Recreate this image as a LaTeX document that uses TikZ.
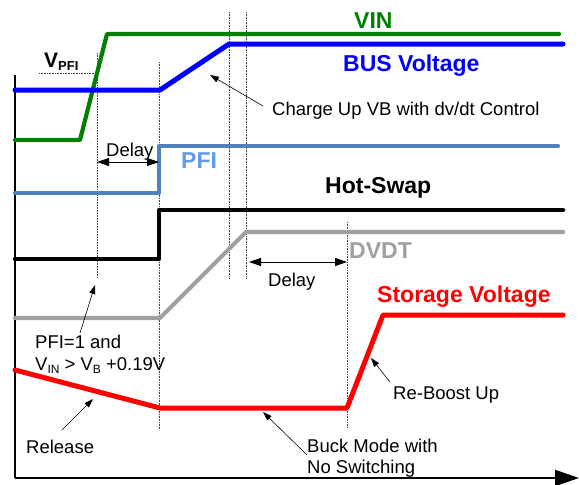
\documentclass[tikz,border=0pt]{standalone}
\usepackage{fontspec}
\setmainfont{Liberation Sans}
\usetikzlibrary{arrows.meta}
\definecolor{cvin}{RGB}{0,128,0}
\definecolor{cbus}{RGB}{0,0,255}
\definecolor{cpfi}{RGB}{79,129,189}
\definecolor{cpfilbl}{RGB}{100,155,230}
\definecolor{cdvdt}{RGB}{160,160,160}
\definecolor{cstor}{RGB}{255,0,0}
\tikzset{
  sig/.style={line width=4.2pt, line cap=round, line join=round},
  guide/.style={densely dotted, line width=0.6pt, black!75},
  note/.style={line width=0.6pt, -{Triangle[length=9pt,width=6pt]}},
  span/.style={line width=0.8pt, {Triangle[length=12pt,width=8pt]}-{Triangle[length=12pt,width=8pt]}},
  lbl/.style={font=\fontsize{23}{25}\selectfont\bfseries, anchor=base west, inner sep=0pt},
  txt/.style={font=\fontsize{18.5}{21}\selectfont, anchor=base west, inner sep=0pt},
}
\begin{document}
\begin{tikzpicture}[x=1pt,y=-1pt]
\useasboundingbox (0,0) rectangle (579,485);
% guides
\draw[guide] (97,53) -- (97,278);
\draw[guide] (159,62) -- (159,430);
\draw[guide] (229,12) -- (229,278);
\draw[guide] (246,12) -- (246,278);
\draw[guide] (347,222) -- (347,428);
\draw[guide] (39,73) -- (97,73);
% axes
\draw[line width=2pt] (15,75) -- (15,478);
\draw[line width=2pt, -{Triangle[length=24pt,width=16pt]}] (15,478) -- (579,478);
% signals
\draw[sig, cvin] (15,140) -- (80,140) -- (107,34) -- (559,34);
\draw[sig, cbus, line width=5pt] (15,90) -- (160,90) -- (229,44) -- (563,44);
\draw[sig, cpfi] (15,193) -- (159,193) -- (159,146) -- (558,146);
\draw[sig, black, line width=4.5pt] (15,259) -- (159,259) -- (159,210) -- (563,210);
\draw[sig, cdvdt] (15,318) -- (160,318) -- (246,232) -- (563,232);
\draw[sig, cstor, line width=5pt] (15,370) -- (160,408) -- (347,408) -- (383,315) -- (563,315);
% labels
\node[inner sep=0pt, anchor=base west, font=\fontsize{21}{22}\selectfont\bfseries] (vpfi) at (44,67) {V\raisebox{-3.5pt}{\fontsize{13}{13}\selectfont PFI}};
\node[lbl, cvin] (lvin) at (354,28) {VIN};
\node[lbl, cbus] (lbus) at (343,71) {BUS Voltage};
\node[lbl, cpfilbl] (lpfi) at (181,168) {PFI};
\node[lbl, black] (lhs) at (325,193) {Hot-Swap};
\node[lbl, cdvdt] (ldvdt) at (349,258) {DVDT};
\node[lbl, cstor] (lstor) at (377,302) {Storage Voltage};
% annotations
\node[txt] (charge) at (272,115) {Charge Up VB with dv/dt Control};
\coordinate (chargetail) at (263,106);
\coordinate (chargetip) at (210,75);
\draw[note] (chargetail) -- (chargetip);

\node[txt] (delay1) at (106,156) {Delay};
\coordinate (d1a) at (97,162);
\coordinate (d1b) at (159,162);
\draw[span] (d1a) -- (d1b);

\node[txt] (delay2) at (268,286) {Delay};
\coordinate (d2a) at (249,262);
\coordinate (d2b) at (347,262);
\draw[span] (d2a) -- (d2b);

\node[txt] (cond1) at (35,348) {PFI=1 and};
\node[txt] (cond2) at (35,370) {V\raisebox{-3pt}{\fontsize{12}{12}\selectfont IN} \textgreater{} V\raisebox{-3pt}{\fontsize{12}{12}\selectfont B} +0.19V};
\coordinate (condtail) at (80,333);
\coordinate (condtip) at (95,285);
\draw[note] (condtail) -- (condtip);

\node[txt] (release) at (26,453) {Release};
\coordinate (reltail) at (62,430);
\coordinate (reltip) at (93,399);
\draw[note] (reltail) -- (reltip);

\node[txt] (buck1) at (307,452) {Buck Mode with};
\node[txt] (buck2) at (307,473) {No Switching};
\coordinate (bucktail) at (307,455);
\coordinate (bucktip) at (263,412);
\draw[note] (bucktail) -- (bucktip);

\node[txt] (reboost) at (393,399) {Re-Boost Up};
\coordinate (rbtail) at (390,382);
\coordinate (rbtip) at (371,358);
\draw[note] (rbtail) -- (rbtip);
\end{tikzpicture}
\end{document}
